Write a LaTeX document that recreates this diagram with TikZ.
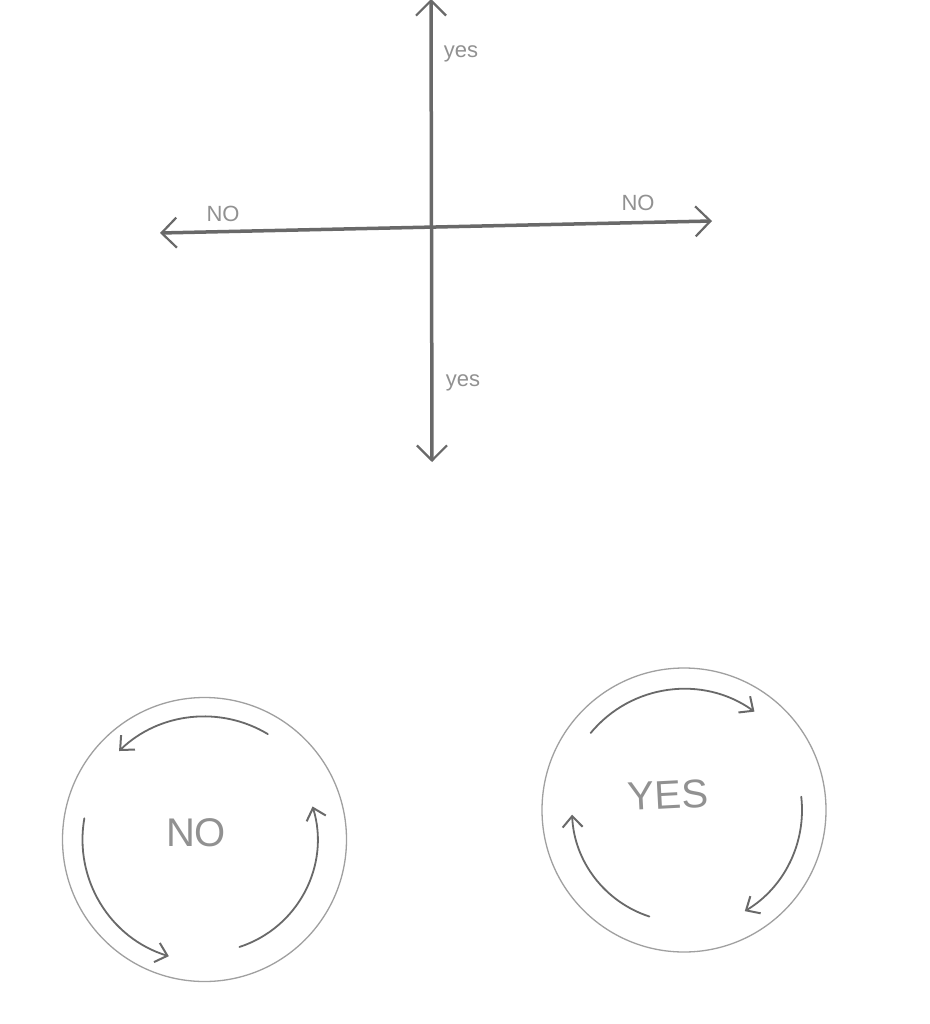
\documentclass[tikz,border=0pt]{standalone}
\usepackage{fontspec}
\setmainfont{Liberation Sans}
\usetikzlibrary{arrows.meta}
\definecolor{pencil}{RGB}{105,105,105}
\definecolor{pencilL}{RGB}{160,160,160}
\definecolor{pencilT}{RGB}{145,145,145}
\tikzset{
  axisline/.style={draw=pencil, line width=3.5pt, line cap=round,
    {Straight Barb[length=15pt,width=30pt,line width=2.2pt]}-{Straight Barb[length=15pt,width=30pt,line width=2.2pt]}},
  ring/.style={circle, draw=pencilL, line width=1.3pt, minimum size=284pt, inner sep=0pt},
  turn/.style={draw=pencil, line width=1.8pt, line cap=round,
    -{Straight Barb[length=11pt,width=20pt,line width=2pt]}},
  axlabel/.style={text=pencilT, font=\fontsize{22}{22}\selectfont, inner sep=0pt},
  biglabel/.style={text=pencilT, font=\fontsize{40}{40}\selectfont, inner sep=0pt},
}
\begin{document}
\begin{tikzpicture}[x=1pt,y=-1pt]
\useasboundingbox (0,0) rectangle (929,1024);
\fill[white] (0,0) rectangle (929,1024);
% axes
\coordinate (ctr) at (430,227);
\coordinate (top) at (431,-1);
\coordinate (bot) at (432,462);
\coordinate (lft) at (160,233);
\coordinate (rgt) at (712,221);
\draw[axisline] (bot) -- (top);
\draw[axisline] (lft) -- (rgt);
\node[axlabel] (ytop) at (461,54) {yes};
\node[axlabel] (ybot) at (463,383) {yes};
\node[axlabel] (nlft) at (223,214) {NO};
\node[axlabel] (nrgt) at (638,203) {NO};
% NO circle (counterclockwise)
\node[ring] (noc) at (204.5,839.5) {};
\node[biglabel] (notxt) at (196,833) {NO};
\draw[turn] ([shift={(-59:123)}]noc.center) arc[start angle=-59, end angle=-134, radius=123];
\draw[turn] ([shift={(-170:122)}]noc.center) arc[start angle=-170, end angle=-253, radius=122];
\draw[turn] ([shift={(-288:113)}]noc.center) arc[start angle=-288, end angle=-377, radius=113];
% YES circle (clockwise)
\node[ring] (yesc) at (684,810) {};
\node[biglabel, rotate=3] (yestxt) at (668,795) {YES};
\draw[turn] ([shift={(-140.5:121)}]yesc.center) arc[start angle=-140.5, end angle=-54.4, radius=121];
\draw[turn] ([shift={(-6.5:118)}]yesc.center) arc[start angle=-6.5, end angle=59, radius=118];
\draw[turn] ([shift={(-252:112)}]yesc.center) arc[start angle=-252, end angle=-182.4, radius=112];
\end{tikzpicture}
\end{document}
